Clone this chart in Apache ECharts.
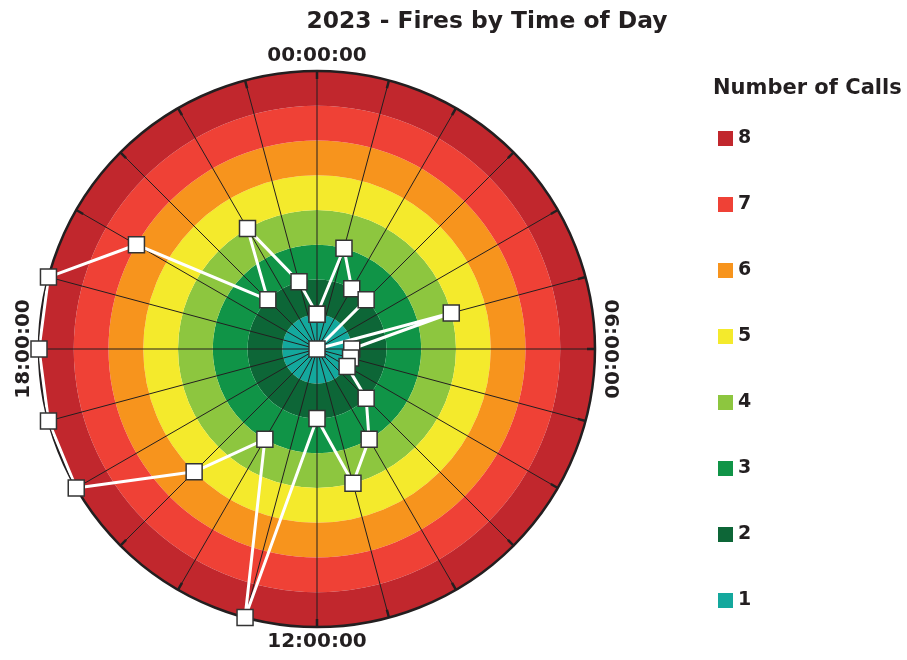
<!DOCTYPE html>
<html>
<head>
<meta charset="utf-8">
<title>2023 - Fires by Time of Day</title>
<script src="https://cdn.jsdelivr.net/npm/echarts@6/dist/echarts.min.js"></script>
<style>
  html, body { margin: 0; padding: 0; background: #fff; }
  #chart { width: 907px; height: 660px; }
</style>
</head>
<body>
<div id="chart"></div>
<script>
// data: one value per hour, 00:00 .. 23:00
const hourValues = [1, 3, 2, 2, 0, 4, 1, 1, 1, 2, 3, 4, 2, 8, 3, 5, 8, 8, 8, 8, 6, 2, 4, 2]
// legend levels (top to bottom) and their colours
const levels = ["8", "7", "6", "5", "4", "3", "2", "1"]
const levelColors = ["#c1272d", "#ef4136", "#f7941d", "#f4ea2c", "#8dc63f", "#109447", "#0d6637", "#14a89d"]
// tick labels shown round the circle
const tickLabels = ["00:00:00", "06:00:00", "12:00:00", "18:00:00"]

// polar layout
const cx = 317
const cy = 349
const R = 278
const FONT = "'DejaVu Sans', Arial, sans-serif"

const myChart = echarts.init(document.getElementById("chart"))

// rings go from inside out: 1 .. 8
const ringColors = levelColors.slice().reverse()

// line data [radius, hour], closed back to 00:00
const lineData = hourValues.map((v, i) => [v, i])
lineData.push([hourValues[0], 24])

// dummy series so the legend shows the 8 levels
const legendSeries = levels.map((name, i) => ({
  name: name,
  type: "line",
  coordinateSystem: "polar",
  data: [],
  itemStyle: { color: levelColors[i] },
}))

// hour labels drawn round the outside (tops facing outward, 12:00 upright)
const labelDist = 293
const labelRot = [0, -Math.PI / 2, 0, Math.PI / 2]
const labelGraphics = tickLabels.map((text, i) => {
  const a = (i * 90 * Math.PI) / 180
  return {
    type: "text",
    x: cx + labelDist * Math.sin(a),
    y: cy - labelDist * Math.cos(a),
    rotation: labelRot[i],
    style: {
      text: text,
      font: "bold 20px " + FONT,
      fill: "#231f20",
      align: "center",
      verticalAlign: "middle",
    },
  }
})

let option = {
  animation: false,
  title: [
    {
      text: "2023 - Fires by Time of Day",
      left: 482,
      top: 5,
      textAlign: "center",
      textStyle: { fontSize: 23.4, fontWeight: "bold", color: "#231f20", fontFamily: FONT },
    },
    {
      text: "Number of Calls",
      left: 708,
      top: 73,
      textStyle: { fontSize: 21, fontWeight: "bold", color: "#231f20", fontFamily: FONT },
    },
  ],
  legend: {
    orient: "vertical",
    left: 713,
    top: 124,
    icon: "rect",
    itemWidth: 15,
    itemHeight: 15,
    itemGap: 47,
    selectedMode: false,
    data: levels,
    textStyle: { fontSize: 19, fontWeight: "bold", color: "#231f20", fontFamily: FONT },
  },
  polar: {
    center: [cx, cy],
    radius: R,
  },
  angleAxis: {
    type: "value",
    min: 0,
    max: 24,
    interval: 1,
    startAngle: 90,
    clockwise: true,
    z: 1,
    axisLine: { lineStyle: { color: "#231f20", width: 2.5 } },
    axisTick: { show: true, inside: true, length: 8, lineStyle: { color: "#231f20", width: 2.5 } },
    axisLabel: { show: false },
    splitLine: { show: true, lineStyle: { color: "#231f20", width: 1 } },
  },
  radiusAxis: {
    type: "value",
    min: 0,
    max: 8,
    interval: 1,
    z: 0,
    axisLine: { show: false },
    axisTick: { show: false },
    axisLabel: { show: false },
    splitLine: { show: false },
    splitArea: { show: true, areaStyle: { color: ringColors, opacity: 1 } },
  },
  graphic: labelGraphics,
  series: [
    {
      name: "Calls",
      type: "line",
      coordinateSystem: "polar",
      data: lineData,
      clip: false,
      z: 5,
      symbol: "rect",
      symbolSize: 16,
      showAllSymbol: true,
      lineStyle: { color: "#fff", width: 3 },
      itemStyle: { color: "#fff", borderColor: "#333", borderWidth: 1.5 },
    },
    ...legendSeries,
  ],
}

myChart.setOption(option)
</script>
</body>
</html>
